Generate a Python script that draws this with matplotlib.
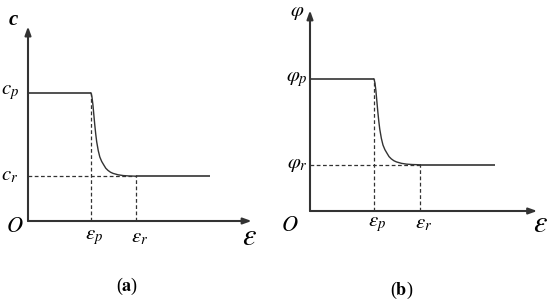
import matplotlib
matplotlib.use("Agg")
import matplotlib.pyplot as plt

plt.rcParams['mathtext.fontset'] = 'stix'
plt.rcParams['font.family'] = ['Liberation Serif', 'DejaVu Serif']

# schematic strain-softening curve
eps_p = 1.0
eps_r = 1.72
eps_end = 2.89
peak = 1.0
resid = 0.35
# points along the softening part (strain, strength)
soft_x = [1.00, 1.015, 1.03, 1.045, 1.06, 1.075, 1.09, 1.115, 1.14, 1.17, 1.20, 1.235, 1.27, 1.31,
          1.35, 1.43, 1.51, 1.60, 1.67, 1.72]
soft_y = [1.00, 0.97, 0.91, 0.83, 0.75, 0.68, 0.62, 0.55, 0.50, 0.465, 0.44, 0.412, 0.395, 0.381,
          0.372, 0.361, 0.355, 0.352, 0.351, 0.35]

panels = ['a', 'b']

fig = plt.figure(figsize=(5.5, 3.01), dpi=100)
W, H = 550, 301

# origin pixel, px per unit x, px per unit y
geo = [(28, 221, 63, 128), (310, 211, 64, 132)]
xmax = 3.55
ymax = 1.52
ink = '#333333'

for i in range(2):
    ox, oy, ux, uy = geo[i]
    ax = fig.add_axes([ox / W, (H - oy) / H, 230 / W, 205 / H])
    ax.set_xlim(0, 230 / ux)
    ax.set_ylim(0, 205 / uy)
    ax.axis('off')

    # axes with arrows
    ax.annotate('', xy=(xmax, 0), xytext=(0, 0),
                arrowprops=dict(arrowstyle='-|>,head_length=0.5,head_width=0.18', color=ink, lw=1.5,
                                shrinkA=0, shrinkB=0))
    ax.annotate('', xy=(0, ymax), xytext=(0, 0),
                arrowprops=dict(arrowstyle='-|>,head_length=0.5,head_width=0.18', color=ink, lw=1.5,
                                shrinkA=0, shrinkB=0))

    # curve
    ax.plot([0, eps_p], [peak, peak], color=ink, lw=1.2, solid_capstyle='butt')
    ax.plot(soft_x, soft_y, color=ink, lw=1.0)
    ax.plot([eps_r, eps_end], [resid, resid], color=ink, lw=1.2, solid_capstyle='butt')

    # dashed guides
    ax.plot([eps_p, eps_p], [0, peak], color=ink, lw=0.9, ls=(0, (3, 2)))
    ax.plot([eps_r, eps_r], [0, resid], color=ink, lw=0.9, ls=(0, (3, 2)))
    ax.plot([0, eps_r], [resid, resid], color=ink, lw=0.9, ls=(0, (3, 2)))

    # labels
    if i == 0:
        ax.text(-0.24, 1.57, 'c', fontsize=15, style='italic', weight='bold',
                ha='center', va='center', clip_on=False)
        ax.text(-0.29, peak, '$c_p$', fontsize=15, ha='center', va='center')
        ax.text(-0.29, resid, '$c_r$', fontsize=15, ha='center', va='center')
        ax.text(-0.21, -0.05, '$O$', fontsize=16, ha='center', va='center')
        ly = -0.13
        ax.text(3.52, ly, r'$\varepsilon$', fontsize=22, ha='center', va='center')
    else:
        ax.text(-0.2, 1.5, r'$\varphi$', fontsize=15, ha='center', va='center')
        ax.text(-0.2, peak, r'$\varphi_p$', fontsize=15, ha='center', va='center')
        ax.text(-0.2, resid, r'$\varphi_r$', fontsize=15, ha='center', va='center')
        ax.text(-0.31, -0.12, '$O$', fontsize=16, ha='center', va='center')
        ly = -0.1
        ax.text(3.6, ly, r'$\varepsilon$', fontsize=22, ha='center', va='center')
    ax.text(eps_p + 0.05, ly, r'$\varepsilon_p$', fontsize=15, ha='center', va='center')
    ax.text(eps_r + 0.05, ly, r'$\varepsilon_r$', fontsize=15, ha='center', va='center')

fig.text(127 / W, 1 - 286 / H, r'($\mathbf{a}$)', fontsize=13, ha='center', va='center')
fig.text(402 / W, 1 - 290 / H, r'($\mathbf{b}$)', fontsize=13, ha='center', va='center')

fig.savefig('out.png', dpi=100)
